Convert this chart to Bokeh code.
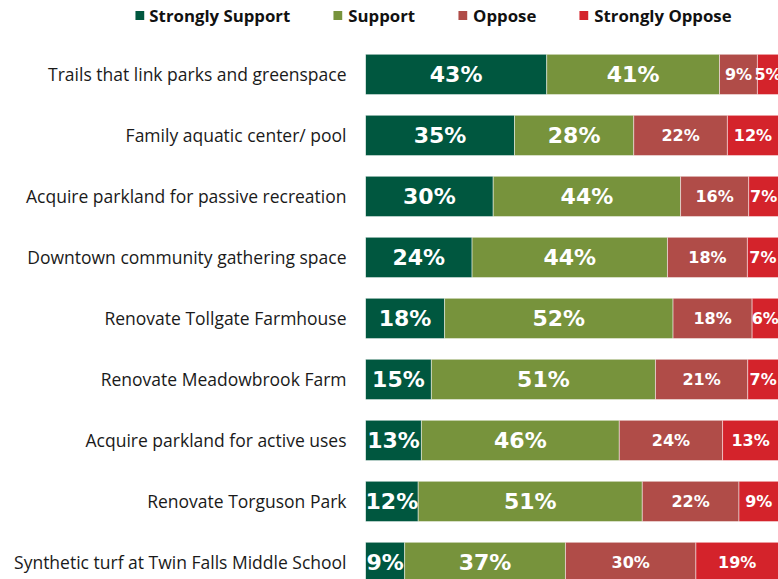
import numpy as np
from bokeh.plotting import figure
from bokeh.layouts import column
from bokeh.models import ColumnDataSource, Range1d, FixedTicker, Legend, LegendItem
from bokeh.core.properties import value
from bokeh.embed import file_html
from bokeh.resources import INLINE

categories = [
    "Trails that link parks and greenspace",
    "Family aquatic center/ pool",
    "Acquire parkland for passive recreation",
    "Downtown community gathering space",
    "Renovate Tollgate Farmhouse",
    "Renovate Meadowbrook Farm",
    "Acquire parkland for active uses",
    "Renovate Torguson Park",
    "Synthetic turf at Twin Falls Middle School",
]
strongly_support = [43, 35, 30, 24, 18, 15, 13, 12, 9]
support = [41, 28, 44, 44, 52, 51, 46, 51, 37]
oppose = [9, 22, 16, 18, 18, 21, 24, 22, 30]
strongly_oppose = [5, 12, 7, 7, 6, 7, 13, 9, 19]

series_names = ["Strongly Support", "Support", "Oppose", "Strongly Oppose"]
colors = ["#00573F", "#77933C", "#B04C48", "#D4232B"]
label_sizes = ["22px", "22px", "16px", "16px"]

y_pos = list(range(len(categories)))

raw = np.array([strongly_support, support, oppose, strongly_oppose], dtype=float)
share = raw / raw.sum(axis=0) * 100.0
lefts = np.vstack([np.zeros(len(categories)), np.cumsum(share, axis=0)[:-1]])
rights = lefts + share
mids = (lefts + rights) / 2.0

sources = [ColumnDataSource(dict(y=y_pos, left=lefts[k], right=rights[k], mid=mids[k],
                                 lab=[f"{int(v)}%" for v in raw[k]]))
           for k in range(len(series_names))]

# ---- legend strip ----
lg = figure(width=778, height=30, output_backend="svg", toolbar_location=None,
            x_axis_location=None, y_axis_location=None, frame_align=False,
            min_border_left=87, min_border_right=0, min_border_top=0, min_border_bottom=0)
lg.grid.visible = False
lg.outline_line_color = None
items = []
for k, name in enumerate(series_names):
    r = lg.hbar(y="y", left="left", right="right", height=0.66, source=sources[k],
                fill_color=colors[k], line_color=None, visible=False)
    items.append(LegendItem(label=name, renderers=[r]))
legend = Legend(items=items, orientation="horizontal", location="center", spacing=42,
                glyph_width=11, glyph_height=11, label_standoff=5, padding=0, margin=0,
                border_line_color=None, background_fill_alpha=0, label_height=16,
                inactive_fill_alpha=0, click_policy="none",
                label_text_font="Open Sans", label_text_font_style="bold",
                label_text_font_size="16.8px", label_text_color="#111111")
lg.add_layout(legend, "center")

# ---- main chart ----
p = figure(width=778, height=549, output_backend="svg", toolbar_location=None,
           x_range=Range1d(0, 100), y_range=Range1d(8.279, -0.721), frame_align=False,
           min_border_left=365, min_border_right=0, min_border_top=0, min_border_bottom=0)

for k, name in enumerate(series_names):
    p.hbar(y="y", left="left", right="right", height=0.66, source=sources[k],
           fill_color=colors[k], line_color="white", line_width=0.8, line_alpha=0.6)
    p.text(x="mid", y="y", text="lab", source=sources[k], text_align="center",
           text_baseline="middle", text_color="white", text_font=value("DejaVu Sans"),
           text_font_style="bold", text_font_size=label_sizes[k])

p.xaxis.visible = False
p.grid.visible = False
p.outline_line_color = None
ax = p.yaxis[0]
ax.ticker = FixedTicker(ticks=y_pos)
ax.major_label_overrides = {i: c for i, c in zip(y_pos, categories)}
ax.axis_line_color = None
ax.major_tick_line_color = None
ax.minor_tick_line_color = None
ax.major_tick_out = 0
ax.major_label_standoff = 19
ax.major_label_text_font = "Open Sans"
ax.major_label_text_font_size = "17.5px"
ax.major_label_text_color = "#1a1a1a"

layout = column(lg, p, spacing=0)
open("out.html", "w").write(file_html(layout, INLINE))
